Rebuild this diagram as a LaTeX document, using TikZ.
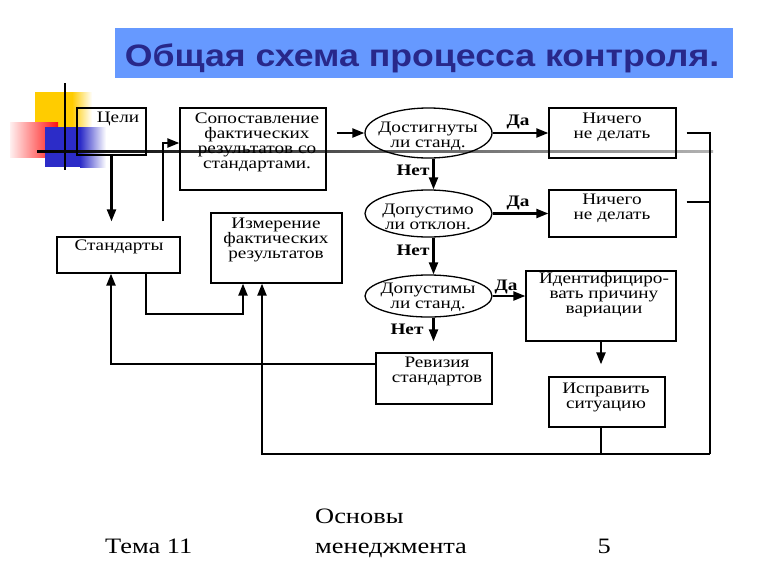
\documentclass[tikz,border=0pt]{standalone}
\usepackage{fontspec}
\setmainfont{Liberation Serif}
\newfontfamily\diagfont[FakeStretch=1.2]{Liberation Serif}
\newfontfamily\titlefont[FakeStretch=1.15]{Liberation Sans}
\usetikzlibrary{arrows.meta,shapes.geometric}
\definecolor{titlebg}{HTML}{6699FF}
\definecolor{titlefg}{HTML}{28288A}
\definecolor{decyellow}{HTML}{FFCC00}
\definecolor{decred}{HTML}{FF1010}
\definecolor{decblue}{HTML}{2C2CC8}
\begin{document}
\begin{tikzpicture}[x=1pt,y=-1pt,
  box/.style={draw, line width=1.3pt, inner sep=0pt},
  dec/.style={draw, ellipse, line width=1.3pt, inner sep=0pt},
  txt/.style={font=\diagfont\fontsize{16}{15}\selectfont, align=center, inner sep=0pt},
  conn/.style={line width=2.2pt},
  arr/.style={conn, -{Triangle[length=12pt,width=9pt]}},
  lbl/.style={font=\diagfont\bfseries\fontsize{16}{16}\selectfont, inner sep=0pt},
  foot/.style={font=\diagfont\fontsize{22}{26}\selectfont, inner sep=0pt}
]
\useasboundingbox (0,0) rectangle (768,576);
\fill[white] (0,0) rectangle (768,576);

% title
\fill[titlebg] (115,28) rectangle (733,78);
\node[font=\titlefont\bfseries\fontsize{31}{31}\selectfont, text=titlefg, inner sep=0pt, anchor=base] (title) at (422,66) {Общая схема процесса контроля.};

% decoration
\fill[decyellow] (35,92) rectangle (72,127);
\shade[left color=decyellow, right color=white] (72,92) rectangle (92,127);
\shade[left color=red!6, right color=decred] (10,122) rectangle (58,157);
\fill[decblue] (45,127) rectangle (80,167);
\shade[left color=decblue, right color=white] (80,127) rectangle (106,167);
\draw[line width=1.6pt] (65,83) -- (65,170);
\shade[left color=black, right color=black!30] (37,150) rectangle (713,152.2);

% boxes
\node[box, minimum width=69pt, minimum height=47pt] (goals) at (111.5,131.5) {};
\node[txt] (goalsT) at (118,119) {Цели};
\node[box, minimum width=146pt, minimum height=82pt] (comp) at (253,149) {};
\node[txt] (compT) at (257,142) {Сопоставление\\фактических\\результатов со\\стандартами.};
\node[box, minimum width=123pt, minimum height=36pt] (std) at (118.5,255) {};
\node[txt] (stdT) at (119,247) {Стандарты};
\node[box, minimum width=131pt, minimum height=70pt] (meas) at (276.5,248) {};
\node[txt] (measT) at (276,240) {Измерение\\фактических\\результатов};
\node[box, minimum width=127pt, minimum height=50pt] (n1) at (612.5,133) {};
\node[txt] (n1T) at (612,127) {Ничего\\не делать};
\node[box, minimum width=127pt, minimum height=47pt] (n2) at (612.5,213.5) {};
\node[txt] (n2T) at (612,208) {Ничего\\не делать};
\node[box, minimum width=150pt, minimum height=70pt] (ident) at (601,306) {};
\node[txt] (identT) at (604,295) {Идентифициро-\\вать причину\\вариации};
\node[box, minimum width=116pt, minimum height=51pt] (rev) at (434,378.5) {};
\node[txt] (revT) at (437,371) {Ревизия\\стандартов};
\node[box, minimum width=116pt, minimum height=50pt] (fix) at (607,402) {};
\node[txt] (fixT) at (606,397) {Исправить\\ситуацию};

% decisions
\node[dec, minimum width=127pt, minimum height=50pt] (e1) at (428.5,133) {};
\node[txt] (e1T) at (428,136) {Достигнуты\\ли станд.};
\node[dec, minimum width=127pt, minimum height=47pt] (e2) at (428.5,213.5) {};
\node[txt] (e2T) at (428,217) {Допустимо\\ли отклон.};
\node[dec, minimum width=127pt, minimum height=42pt] (e3) at (428.5,296) {};
\node[txt] (e3T) at (428,297) {Допустимы\\ли станд.};

% helper coordinates
\coordinate (xa) at (163,143);
\coordinate (r2) at (710,202);
\coordinate (corner) at (710,454);
\coordinate (xm2) at (262,454);
\coordinate (yr) at (111,364);
\coordinate (xs) at (146,0);
\coordinate (lowL) at (243,314);

% connectors
\draw[arr, shorten >=15pt] (goals.south) -- (goals.south |- std.north);
\draw[arr, shorten <=15pt] (std.north -| xa) |- (comp.west |- xa);
\draw[arr, shorten <=10pt] (comp.east |- e1) -- (e1.west);
\draw[arr] (e1.east) -- (n1.west);
\draw[arr] ([xshift=5pt]e1.south) -- ([xshift=5pt]e2.north);
\draw[arr] (e2.east) -- (e2.east -| n2.west);
\draw[arr] ([xshift=5pt]e2.south) -- ([xshift=5pt]e3.north);
\draw[arr] (e3.east) -- (e3.east -| ident.west);
\draw[arr, shorten >=11pt] ([xshift=5pt]e3.south) -- ([xshift=5pt]e3.south |- rev.north);
\draw[arr, shorten >=12pt] (ident.south) -- (ident.south |- fix.north);
\draw[conn] (ident.south |- fix.south) -- (ident.south |- corner);
\draw[conn, shorten <=10pt] (n1.east) -| (corner);
\draw[conn, shorten <=10pt] (n2.east |- r2) -- (r2);
\draw[arr] (corner) -- (xm2) -- (xm2 |- meas.south);
\draw[arr] (rev.west |- yr) -- (yr) -- (yr |- std.south);
\draw[arr] (std.south -| xs) |- (lowL) -- (lowL |- meas.south);

% labels
\node[lbl] (da1) at (518,122) {Да};
\node[lbl] (net1) at (413,170) {Нет};
\node[lbl] (da2) at (518,203) {Да};
\node[lbl] (net2) at (413,250) {Нет};
\node[lbl] (da3) at (506,287) {Да};
\node[lbl] (net3) at (407,329) {Нет};

% footer
\node[foot, anchor=base west] (f1) at (105,553) {Тема 11};
\node[foot, anchor=base west] (f2) at (315,523) {Основы};
\node[foot, anchor=base west] (f3) at (315,553) {менеджмента};
\node[foot, anchor=base east] (f4) at (611,553) {5};
\end{tikzpicture}
\end{document}
